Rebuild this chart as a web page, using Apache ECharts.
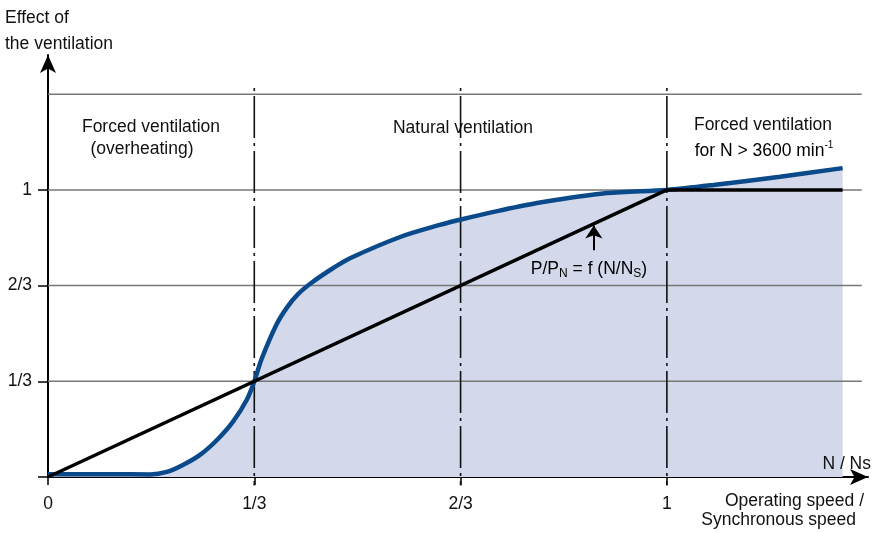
<!DOCTYPE html>
<html><head><meta charset="utf-8">
<script src="https://cdn.jsdelivr.net/npm/echarts@6/dist/echarts.min.js"></script>
<style>html,body{margin:0;padding:0;background:#fff}#c{width:883px;height:533px}</style>
</head><body><div id="c"></div>
<script>
// ---- data ----
const xTickValues = [0, 1/3, 2/3, 1];
const xTickLabels = ['0', '1/3', '2/3', '1'];
const yTickValues = [0, 1/3, 2/3, 1];
const yTickLabels = ['', '1/3', '2/3', '1'];
const gridLevels = [1/3, 2/3, 1, 4/3];
const dividers = [1/3, 2/3, 1];
const effectX = [0, 0.05, 0.10, 0.165, 0.192, 0.218, 0.2456, 0.273, 0.299, 0.321, 0.3333, 0.345, 0.369, 0.386, 0.404, 0.428, 0.461, 0.488, 0.569, 0.633, 0.669, 0.730, 0.795, 0.903, 1.0, 1.075, 1.183, 1.284];
const effectY = [0.01, 0.01, 0.01, 0.009, 0.018, 0.042, 0.077, 0.129, 0.193, 0.268, 0.333, 0.41, 0.53, 0.59, 0.637, 0.680, 0.728, 0.762, 0.836, 0.878, 0.898, 0.928, 0.956, 0.989, 1.0, 1.017, 1.046, 1.076];
const powerX = [0, 1, 1.284];
const powerY = [0, 1, 1];
const gridLineEnd = 1.315;
const dividerTop = 1.355, dividerBottom = -0.03;
const arrowX = 0.882, arrowFrom = 0.79, arrowTo = 0.876;

const FONT = "'Liberation Sans', Arial, sans-serif";
const FS = 17.5;
const pairs = (xs, ys) => xs.map((x, i) => [x, ys[i]]);
const labelFor = (vals, labs) => v => { let k = 0, d = 1e9; vals.forEach((t, i) => { if (Math.abs(t - v) < d) { d = Math.abs(t - v); k = i; } }); return d < 1e-6 ? labs[k] : ''; };

const series = [];
series.push({ type: 'line', data: pairs(effectX, effectY), smooth: 0.3, showSymbol: false, silent: true,
  lineStyle: { width: 0 }, areaStyle: { color: '#d3d8ea', opacity: 1 }, z: 1 });
gridLevels.forEach(v => series.push({ type: 'line', data: [[0, v], [gridLineEnd, v]], showSymbol: false, silent: true,
  lineStyle: { color: '#777', width: 1.5 }, z: 2 }));
dividers.forEach(v => series.push({ type: 'line', data: [[v, dividerTop], [v, dividerBottom]], showSymbol: false, silent: true, clip: false,
  lineStyle: { color: '#111', width: 1.6, type: [3, 5, 42, 5] }, z: 2 }));
series.push({ type: 'line', data: pairs(effectX, effectY), smooth: 0.3, showSymbol: false, silent: true,
  lineStyle: { color: '#0b4a8a', width: 4.5 }, z: 3 });
series.push({ type: 'line', data: pairs(powerX, powerY), showSymbol: false, silent: true,
  lineStyle: { color: '#000', width: 3.5 }, z: 4 });
series.push({ type: 'line', data: [], silent: true, z: 5,
  markLine: { silent: true, animation: false, symbol: ['none', 'arrow'], symbolSize: 13, label: { show: false },
    lineStyle: { color: '#000', width: 2, type: 'solid' },
    data: [[{ coord: [arrowX, arrowFrom] }, { coord: [arrowX, arrowTo] }]] } });

const txt = (x, y, text, align, extra) => Object.assign({ type: 'text', x, y, silent: true, z: 10,
  style: Object.assign({ text, fill: '#111', font: FS + 'px ' + FONT, textAlign: align || 'center', textVerticalAlign: 'middle' }, extra || {}) });

const chart = echarts.init(document.getElementById('c'), null, { renderer: 'canvas' });
chart.setOption({
  animation: false,
  backgroundColor: '#fff',
  grid: { left: 48, right: 15, top: 55, bottom: 56, containLabel: false },
  xAxis: { type: 'value', min: 0, max: 1.325, splitLine: { show: false },
    axisLine: { lineStyle: { color: '#000', width: 2 }, symbol: ['none', 'arrow'], symbolSize: [12, 18] },
    axisTick: { customValues: xTickValues, length: 8, lineStyle: { color: '#000', width: 1.5 } },
    axisLabel: { customValues: xTickValues, formatter: labelFor(xTickValues, xTickLabels), margin: 18,
      color: '#111', fontSize: FS, fontFamily: FONT } },
  yAxis: { type: 'value', min: 0, max: 1.47, splitLine: { show: false },
    axisLine: { lineStyle: { color: '#000', width: 2 }, symbol: ['none', 'arrow'], symbolSize: [12, 18] },
    axisTick: { customValues: yTickValues, length: 10, lineStyle: { color: '#000', width: 1.5 } },
    axisLabel: { customValues: yTickValues, formatter: labelFor(yTickValues, yTickLabels), margin: 16,
      color: '#111', fontSize: FS, fontFamily: FONT } },
  series,
  graphic: [
    txt(5, 18, 'Effect of', 'left'),
    txt(5, 44, 'the ventilation', 'left'),
    txt(151, 127, 'Forced ventilation'),
    txt(142, 149, '(overheating)'),
    txt(463, 128, 'Natural ventilation'),
    txt(763, 125, 'Forced ventilation'),
    { type: 'text', x: 764, y: 151, silent: true, z: 10,
      style: { text: '{n|for N > 3600 min}{s|-1}', textAlign: 'center', textVerticalAlign: 'middle',
        rich: { n: { fontSize: FS, fontFamily: FONT, color: '#111', lineHeight: 22 },
                s: { fontSize: 10, fontFamily: FONT, color: '#111', lineHeight: 22, verticalAlign: 'top', padding: [0, 0, 8, 0] } } } },
    { type: 'text', x: 589, y: 269, silent: true, z: 10,
      style: { text: '{a|P/P}{s|N}{a| = f (N/N}{s|S}{a|)}', textAlign: 'center', textVerticalAlign: 'middle',
        rich: { a: { fontSize: FS, fontFamily: FONT, color: '#111', lineHeight: 22 },
                s: { fontSize: 12, fontFamily: FONT, color: '#111', lineHeight: 22, verticalAlign: 'bottom', padding: [6, 0, 0, 0] } } } },
    txt(871, 464, 'N / Ns', 'right'),
    txt(864, 501, 'Operating speed /', 'right'),
    txt(856, 520, 'Synchronous speed', 'right')
  ]
});
</script></body></html>
